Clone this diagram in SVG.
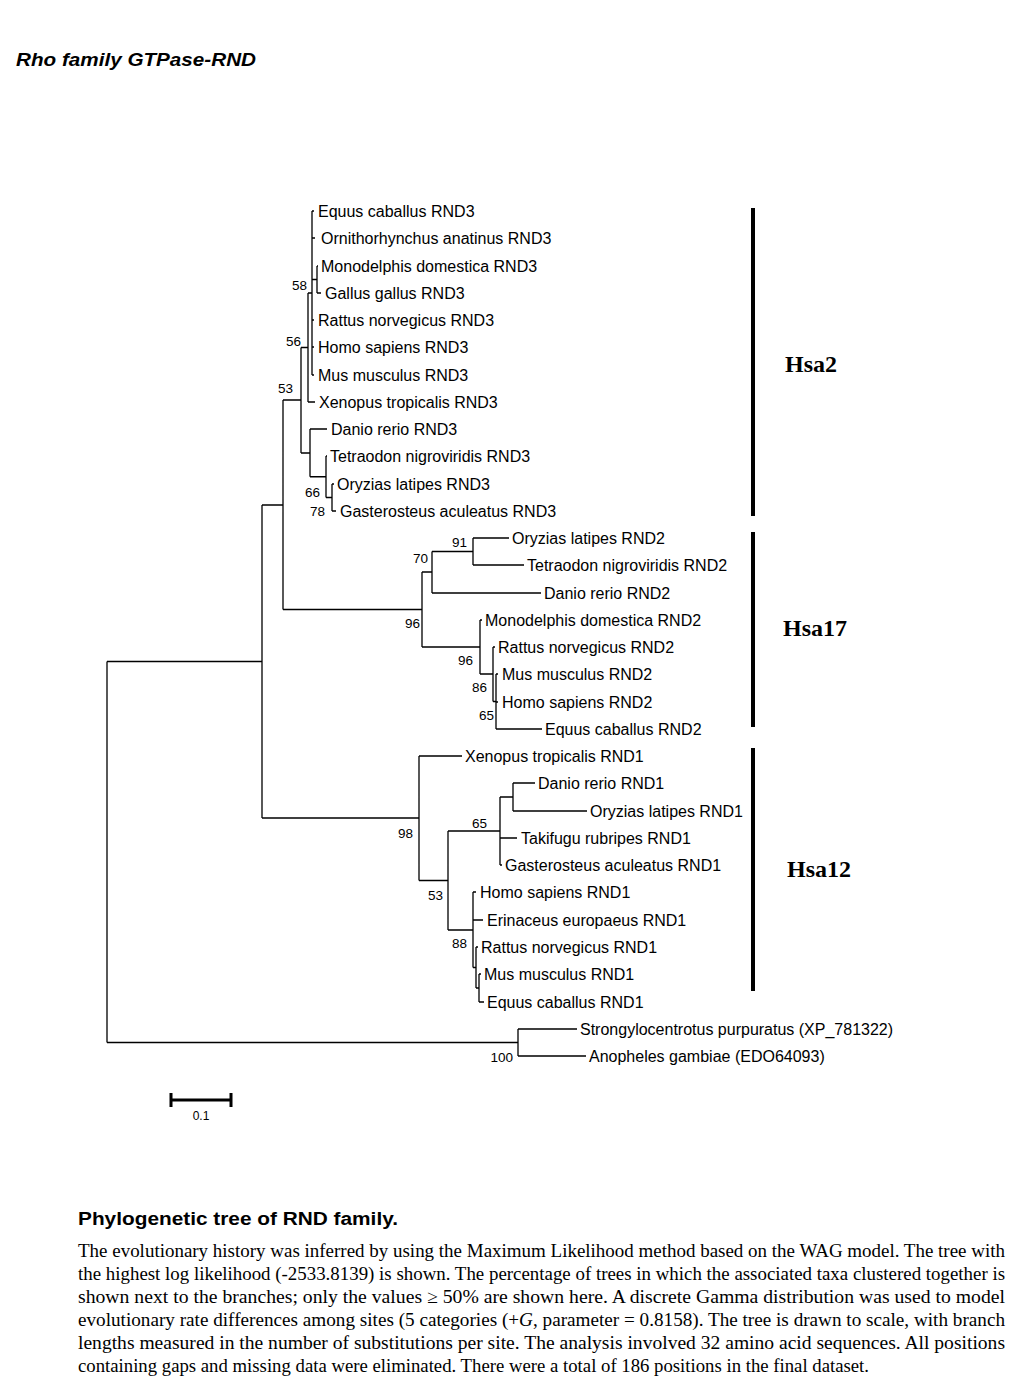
<svg xmlns="http://www.w3.org/2000/svg" width="1020" height="1388" viewBox="0 0 1020 1388">
<style>
.lf{font-family:"Liberation Sans",Arial,sans-serif;font-size:16px;fill:#000}
.bs{font-family:"Liberation Sans",Arial,sans-serif;font-size:13.5px;fill:#000;text-anchor:end}
.br{fill:none;stroke:#000;stroke-width:1.3}
.bar{stroke:#000;stroke-width:4}
.hsa{font-family:"Liberation Serif","Times New Roman",serif;font-size:24px;font-weight:bold;fill:#000}
.cap{font-family:"Liberation Serif","Times New Roman",serif;font-size:18.5px;fill:#000}
</style>
<rect width="1020" height="1388" fill="#fff"/>
<text x="16" y="66" font-family="Liberation Sans,Arial,sans-serif" font-size="19" font-weight="bold" font-style="italic" textLength="240" lengthAdjust="spacingAndGlyphs">Rho family GTPase-RND</text>

<g id="connectors" class="br">
<path d="M107 661.5V1042.5 M107 661.5H262 M262 505V818 M262 505H283 M283 400V609.5 M283 400H301 M301 347.5V453 M301 347.5H308 M308 293V402 M308 402H315 M308 293H312 M312 211V375 M312 211H314 M312 238H315 M312 279.5H317 M317 266V293 M317 266H318 M317 293H321 M312 320H314 M312 347H314 M312 375H314 M301 453H310 M310 429V476.75 M310 429H327 M310 476.75H326 M326 456V497.5 M326 456H327 M326 497.5H332 M332 484V511 M332 484H334 M332 511H336"/>
<path d="M283 609.5H422 M422 572V647 M422 572H432 M432 551.5V593 M432 593H541 M432 551.5H473 M473 538V565 M473 538H509 M473 565H524 M422 647H480 M480 620V674 M480 620H482 M480 674H493 M493 647V701.5 M493 647H495 M493 701.5H496 M496 674V729 M496 674H498 M496 702H498 M496 729H542"/>
<path d="M262 818H419 M419 756V880.5 M419 756H462 M419 880.5H448 M448 831V930 M448 831H500 M500 797V865 M500 797H513 M513 783V811 M513 783H535 M513 811H587 M500 838H517 M500 865H502 M448 930H473 M473 892V967.5 M473 892H476 M473 920H483 M473 967.5H476 M476 947V988 M476 947H478 M476 988H479 M479 974V1002 M479 974H481 M479 1002H484"/>
<path d="M107 1042.5H518 M518 1029V1056 M518 1029H577 M518 1056H586"/>
</g>

<g id="leaves" class="lf">
<g id="n-equus-rnd3"><text x="318" y="217">Equus caballus RND3</text></g>
<g id="n-orni-rnd3"><text x="321" y="244">Ornithorhynchus anatinus RND3</text></g>
<g id="n-mono-rnd3"><text x="321" y="272">Monodelphis domestica RND3</text></g>
<g id="n-gallus-rnd3"><text x="325" y="299">Gallus gallus RND3</text></g>
<g id="n-rattus-rnd3"><text x="318" y="326">Rattus norvegicus RND3</text></g>
<g id="n-homo-rnd3"><text x="318" y="353">Homo sapiens RND3</text></g>
<g id="n-mus-rnd3"><text x="318" y="381">Mus musculus RND3</text></g>
<g id="n-xen-rnd3"><text x="319" y="408">Xenopus tropicalis RND3</text></g>
<g id="n-danio-rnd3"><text x="331" y="435">Danio rerio RND3</text></g>
<g id="n-tetra-rnd3"><text x="330" y="462">Tetraodon nigroviridis RND3</text></g>
<g id="n-ory-rnd3"><text x="337" y="490">Oryzias latipes RND3</text></g>
<g id="n-gast-rnd3"><text x="340" y="517">Gasterosteus aculeatus RND3</text></g>
<g id="n-ory-rnd2"><text x="512" y="544">Oryzias latipes RND2</text></g>
<g id="n-tetra-rnd2"><text x="527" y="571">Tetraodon nigroviridis RND2</text></g>
<g id="n-danio-rnd2"><text x="544" y="599">Danio rerio RND2</text></g>
<g id="n-mono-rnd2"><text x="485" y="626">Monodelphis domestica RND2</text></g>
<g id="n-rattus-rnd2"><text x="498" y="653">Rattus norvegicus RND2</text></g>
<g id="n-mus-rnd2"><text x="502" y="680">Mus musculus RND2</text></g>
<g id="n-homo-rnd2"><text x="502" y="708">Homo sapiens RND2</text></g>
<g id="n-equus-rnd2"><text x="545" y="735">Equus caballus RND2</text></g>
<g id="n-xen-rnd1"><text x="465" y="762">Xenopus tropicalis RND1</text></g>
<g id="n-danio-rnd1"><text x="538" y="789">Danio rerio RND1</text></g>
<g id="n-ory-rnd1"><text x="590" y="817">Oryzias latipes RND1</text></g>
<g id="n-taki-rnd1"><text x="521" y="844">Takifugu rubripes RND1</text></g>
<g id="n-gast-rnd1"><text x="505" y="871">Gasterosteus aculeatus RND1</text></g>
<g id="n-homo-rnd1"><text x="480" y="898">Homo sapiens RND1</text></g>
<g id="n-erin-rnd1"><text x="487" y="926">Erinaceus europaeus RND1</text></g>
<g id="n-rattus-rnd1"><text x="481" y="953">Rattus norvegicus RND1</text></g>
<g id="n-mus-rnd1"><text x="484" y="980">Mus musculus RND1</text></g>
<g id="n-equus-rnd1"><text x="487" y="1008">Equus caballus RND1</text></g>
<g id="n-strongylo"><text x="580" y="1035">Strongylocentrotus purpuratus (XP_781322)</text></g>
<g id="n-anopheles"><text x="589" y="1062">Anopheles gambiae (EDO64093)</text></g>
</g>

<g id="bootstrap" class="bs">
<text x="307" y="290">58</text>
<text x="301" y="346">56</text>
<text x="293" y="393">53</text>
<text x="320" y="497">66</text>
<text x="325" y="516">78</text>
<text x="467" y="547">91</text>
<text x="428" y="563">70</text>
<text x="420" y="628">96</text>
<text x="473" y="665">96</text>
<text x="487" y="692">86</text>
<text x="494" y="720">65</text>
<text x="487" y="828">65</text>
<text x="413" y="838">98</text>
<text x="443" y="900">53</text>
<text x="467" y="948">88</text>
<text x="513" y="1062">100</text>
</g>

<g id="groups">
<g id="hsa2"><line class="bar" x1="753" y1="208" x2="753" y2="516"/><text class="hsa" x="785" y="372">Hsa2</text></g>
<g id="hsa17"><line class="bar" x1="753" y1="532" x2="753" y2="727"/><text class="hsa" x="783" y="636">Hsa17</text></g>
<g id="hsa12"><line class="bar" x1="753" y1="748" x2="753" y2="991"/><text class="hsa" x="787" y="877">Hsa12</text></g>
</g>

<g id="scale">
<path d="M171 1100H231 M171 1093V1107 M231 1093V1107" stroke="#000" stroke-width="3" fill="none"/>
<text x="201" y="1120" text-anchor="middle" font-family="Liberation Sans,Arial,sans-serif" font-size="12">0.1</text>
</g>

<g id="caption">
<text x="78" y="1225" font-family="Liberation Sans,Arial,sans-serif" font-size="18" font-weight="bold" textLength="320" lengthAdjust="spacingAndGlyphs">Phylogenetic tree of RND family.</text>
<text class="cap" x="78" y="1257" textLength="927" lengthAdjust="spacingAndGlyphs">The evolutionary history was inferred by using the Maximum Likelihood method based on the WAG model. The tree with</text>
<text class="cap" x="78" y="1280" textLength="927" lengthAdjust="spacingAndGlyphs">the highest log likelihood (-2533.8139) is shown. The percentage of trees in which the associated taxa clustered together is</text>
<text class="cap" x="78" y="1303" textLength="927" lengthAdjust="spacingAndGlyphs">shown next to the branches; only the values ≥ 50% are shown here. A discrete Gamma distribution was used to model</text>
<text class="cap" x="78" y="1326" textLength="927" lengthAdjust="spacingAndGlyphs">evolutionary rate differences among sites (5 categories (+<tspan font-style="italic">G</tspan>, parameter = 0.8158). The tree is drawn to scale, with branch</text>
<text class="cap" x="78" y="1349" textLength="927" lengthAdjust="spacingAndGlyphs">lengths measured in the number of substitutions per site. The analysis involved 32 amino acid sequences. All positions</text>
<text class="cap" x="78" y="1372" textLength="791" lengthAdjust="spacingAndGlyphs">containing gaps and missing data were eliminated. There were a total of 186 positions in the final dataset.</text>
</g>
</svg>
